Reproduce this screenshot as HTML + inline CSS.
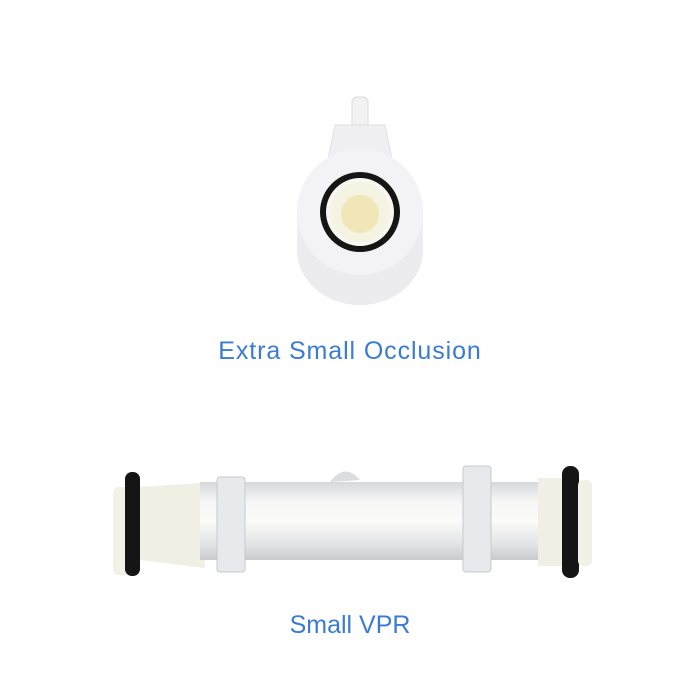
<!DOCTYPE html>
<html><head><style>
body{margin:0;background:#fff;width:700px;height:700px;overflow:hidden;font-family:"Liberation Sans",sans-serif}
.t{position:absolute;width:700px;text-align:center;color:#3a7bd5;font-size:25px}
</style></head><body>
<svg width="700" height="700" style="position:absolute;left:0;top:0">
<defs>
<linearGradient id="g1" x1="0" y1="0" x2="0" y2="1"><stop offset="0" stop-color="#f4f4f6"/><stop offset="1" stop-color="#e8e8ec"/></linearGradient>
<linearGradient id="tube" x1="0" y1="0" x2="0" y2="1"><stop offset="0" stop-color="#d6d8dc"/><stop offset=".25" stop-color="#f6f6f6"/><stop offset=".5" stop-color="#fbfbf8"/><stop offset=".8" stop-color="#e2e3e6"/><stop offset="1" stop-color="#c8cacd"/></linearGradient>
</defs>
<rect x="352" y="97" width="16" height="32" rx="5" fill="#f2f2f2" stroke="#ddd"/>
<path d="M335 125 L385 125 L392 160 L328 160 Z" fill="#f0f0f2" stroke="#e0e0e2"/>
<path d="M297 212 A63 63 0 0 1 423 212 L423 250 A63 55 0 0 1 297 250 Z" fill="url(#g1)"/>
<ellipse cx="360" cy="250" rx="63" ry="55" fill="#ececef"/>
<circle cx="360" cy="212" r="63" fill="#f3f3f5"/>
<circle cx="360" cy="212" r="40" fill="#151515"/>
<circle cx="360" cy="212" r="34" fill="#f7f7f2"/>
<circle cx="360" cy="212" r="30" fill="#f5f3e2"/>
<circle cx="360" cy="214" r="19" fill="#f0e6b8"/>
<rect x="113" y="487" width="20" height="88" rx="6" fill="#f2f1e6"/>
<rect x="125" y="472" width="15" height="104" rx="7" fill="#151515"/>
<path d="M140 487 L200 483 L205 568 L140 560 Z" fill="#f0efe4"/>
<rect x="200" y="482" width="362" height="78" fill="url(#tube)"/>
<path d="M330 482 Q345 462 360 480 Z" fill="#dcdde0"/>
<rect x="217" y="477" width="28" height="95" rx="3" fill="#e8e9ec" stroke="#c8c9cc"/>
<rect x="463" y="466" width="28" height="106" rx="3" fill="#e8e9ec" stroke="#c8c9cc"/>
<rect x="538" y="478" width="26" height="88" fill="#f0efe4"/>
<rect x="562" y="466" width="17" height="112" rx="8" fill="#151515"/>
<rect x="578" y="480" width="14" height="86" rx="5" fill="#f2f1e6"/>
</svg>
<div class="t" style="top:337px;letter-spacing:0.9px">Extra Small Occlusion</div>
<div class="t" style="top:611px">Small VPR</div>
</body></html>
